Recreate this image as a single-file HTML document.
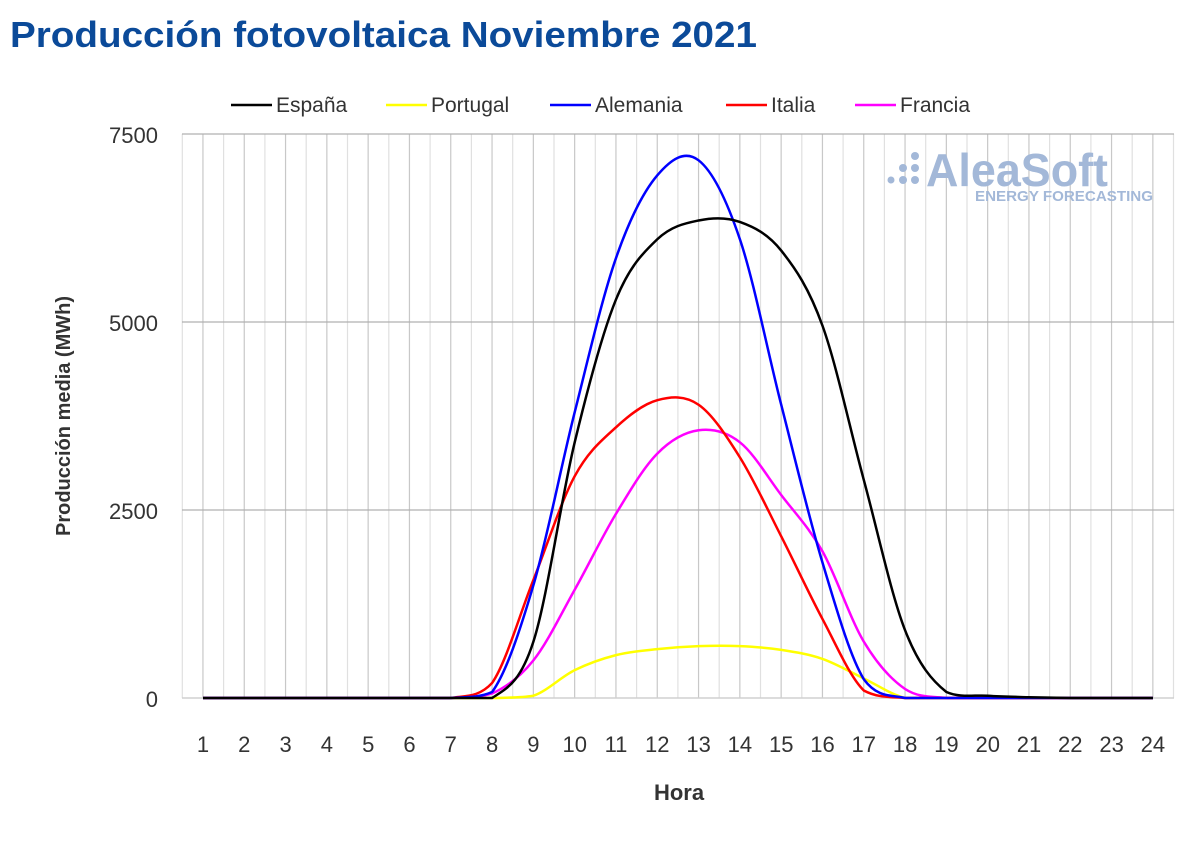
<!DOCTYPE html>
<html><head><meta charset="utf-8"><style>
body{margin:0;background:#fff;width:1200px;height:836px;overflow:hidden;font-family:"Liberation Sans",sans-serif}
</style></head><body>
<svg id="s" width="1200" height="836" xmlns="http://www.w3.org/2000/svg" font-family="Liberation Sans, sans-serif">
<text x="10" y="47" font-size="36" font-weight="bold" fill="#0b4a99" textLength="747" lengthAdjust="spacingAndGlyphs">Producción fotovoltaica Noviembre 2021</text>
<g id="grid"></g>
<g font-size="22" fill="#333" text-anchor="end">
<text x="158" y="143">7500</text><text x="158" y="331">5000</text><text x="158" y="519">2500</text><text x="158" y="707">0</text>
</g>
<g id="xl" font-size="22" fill="#333" text-anchor="middle"></g>
<text x="679" y="800" font-size="22" font-weight="bold" fill="#333" text-anchor="middle">Hora</text>
<text transform="translate(70,416) rotate(-90)" font-size="20" font-weight="bold" fill="#333" text-anchor="middle">Producción media (MWh)</text>
<g font-size="21" fill="#333">
<line x1="231" y1="105" x2="272" y2="105" stroke="#000" stroke-width="2.5"/><text x="276" y="112">España</text>
<line x1="386" y1="105" x2="427" y2="105" stroke="#ff0" stroke-width="2.5"/><text x="431" y="112">Portugal</text>
<line x1="550" y1="105" x2="591" y2="105" stroke="#00f" stroke-width="2.5"/><text x="595" y="112">Alemania</text>
<line x1="726" y1="105" x2="767" y2="105" stroke="#f00" stroke-width="2.5"/><text x="771" y="112">Italia</text>
<line x1="855" y1="105" x2="896" y2="105" stroke="#f0f" stroke-width="2.5"/><text x="900" y="112">Francia</text>
</g>
<g fill="#a3b8d8">
<circle cx="891" cy="180" r="3.5"/><circle cx="903" cy="180" r="4"/><circle cx="915" cy="180" r="4"/>
<circle cx="903" cy="168" r="4"/><circle cx="915" cy="168" r="4"/><circle cx="915" cy="156" r="4"/>
<text x="926" y="186" font-size="46" font-weight="bold" textLength="182" lengthAdjust="spacingAndGlyphs">AleaSoft</text>
<text x="975" y="201" font-size="15" font-weight="bold" textLength="178" lengthAdjust="spacingAndGlyphs">ENERGY FORECASTING</text>
</g>
<g id="lines" fill="none" stroke-width="2.5"></g>
</svg>
<script>
var NS="http://www.w3.org/2000/svg",g=document.getElementById('grid'),xl=document.getElementById('xl'),L=document.getElementById('lines');
function el(p,t,a){var e=document.createElementNS(NS,t);for(var k in a)e.setAttribute(k,a[k]);p.appendChild(e);return e}
var x0=182.3,dx=20.65;
for(var i=0;i<=48;i++){var x=x0+i*dx;el(g,'line',{x1:x,y1:134,x2:x,y2:698,stroke:i%2?'#c8c8c8':'#e0e0e0','stroke-width':1.2});}
[134,322,510].forEach(function(y){el(g,'line',{x1:182,y1:y,x2:1174,y2:y,stroke:'#b0b0b0','stroke-width':1.3})});
el(g,'line',{x1:182,y1:698,x2:1174,y2:698,stroke:'#d0d0d0','stroke-width':1.5});
for(var h=1;h<=24;h++){var t=el(xl,'text',{x:203+41.3*(h-1),y:752});t.textContent=h;}
function X(h){return 203+41.3*(h-1)}function Y(v){return 698-v*0.0752}
var D={
'#ff0':[0,0,0,0,0,0,0,0,30,370,570,650,690,690,640,520,260,0,0,0,0,0,0,0],
'#f0f':[0,0,0,0,0,0,0,60,500,1440,2450,3250,3560,3400,2700,1950,750,120,0,0,0,0,0,0],
'#f00':[0,0,0,0,0,0,0,200,1570,2950,3600,3960,3900,3200,2150,1050,100,0,0,0,0,0,0,0],
'#00f':[0,0,0,0,0,0,0,80,1500,3800,5850,6950,7150,6100,3900,1800,250,0,0,0,0,0,0,0],
'#000':[0,0,0,0,0,0,0,0,750,3400,5300,6100,6350,6330,5950,4950,2900,900,80,30,10,0,0,0]};
for(var c in D){var p=D[c].map(function(v,i){return[X(i+1),Y(v)]}),d='M'+p[0][0]+','+p[0][1];
for(var i=0;i<p.length-1;i++){var a=p[i-1]||p[i],b=p[i],e=p[i+1],f=p[i+2]||e;
var c1x=b[0]+(e[0]-a[0])/6,c1y=Math.min(698,b[1]+(e[1]-a[1])/6),c2x=e[0]-(f[0]-b[0])/6,c2y=Math.min(698,e[1]-(f[1]-b[1])/6);
d+=' C'+c1x+','+c1y+' '+c2x+','+c2y+' '+e[0]+','+e[1];}
el(L,'path',{d:d,stroke:c});}
</script>
</body></html>
